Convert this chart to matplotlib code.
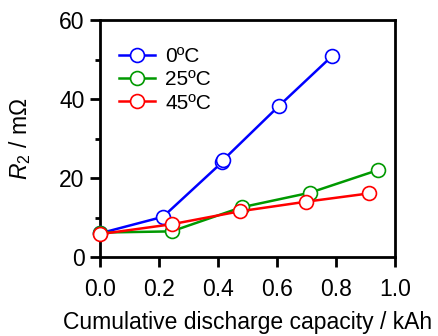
import matplotlib
matplotlib.use("Agg")
import matplotlib.pyplot as plt
from matplotlib.ticker import MultipleLocator

plt.rcParams['font.family'] = ['Liberation Sans', 'DejaVu Sans']
plt.rcParams['mathtext.fontset'] = 'custom'
plt.rcParams['mathtext.rm'] = 'Liberation Sans'
plt.rcParams['mathtext.it'] = 'Liberation Sans:italic'

# 0 degC
x_0c = [0.0, 0.214, 0.414, 0.418, 0.607, 0.785]
r_0c = [6.0, 10.2, 24.0, 24.6, 38.3, 50.8]
# 25 degC
x_25c = [0.0, 0.243, 0.48, 0.712, 0.941]
r_25c = [6.2, 6.5, 12.6, 16.3, 22.0]
# 45 degC
x_45c = [0.0, 0.243, 0.475, 0.697, 0.91]
r_45c = [5.8, 8.3, 11.6, 14.0, 16.1]

labels = ['0ºC', '25ºC', '45ºC']
colors = ['#0000ff', '#009900', '#ff0000']

fig = plt.figure(figsize=(4.38, 3.36), dpi=100)
ax = fig.add_axes([0.228, 0.235, 0.674, 0.705])

for xs, ys, lab, c in zip([x_0c, x_25c, x_45c], [r_0c, r_25c, r_45c], labels, colors):
    ax.plot(xs, ys, '-o', color=c, lw=1.8, ms=10, mfc='white', mec=c, mew=1.2,
            label=lab, clip_on=False, zorder=3)

ax.set_xlim(0, 1.0)
ax.set_ylim(0, 60)
ax.set_xticks([0, 0.2, 0.4, 0.6, 0.8, 1.0])
ax.set_xticklabels(['0.0', '0.2', '0.4', '0.6', '0.8', '1.0'])
ax.yaxis.set_major_locator(MultipleLocator(20))
ax.yaxis.set_minor_locator(MultipleLocator(10))

for s in ax.spines.values():
    s.set_linewidth(2.0)
ax.tick_params(which='both', direction='out', top=False, right=False, width=2.0,
               labelsize=16.5)
ax.tick_params(which='major', length=7)
ax.tick_params(which='minor', length=3.8)
ax.tick_params(axis='x', which='major', pad=8)
ax.tick_params(axis='y', which='major', pad=4)

ax.set_xlabel('Cumulative discharge capacity / kAh', fontsize=16.5, labelpad=7)
ax.set_ylabel('$R_2$ / mΩ', fontsize=16.5, labelpad=19)

ax.legend(loc='upper left', fontsize=15, frameon=False, handlelength=1.75,
          handletextpad=0.5, labelspacing=0.2, borderaxespad=0.5,
          bbox_to_anchor=(0.0, 0.965))

fig.savefig('out.png', dpi=100)
